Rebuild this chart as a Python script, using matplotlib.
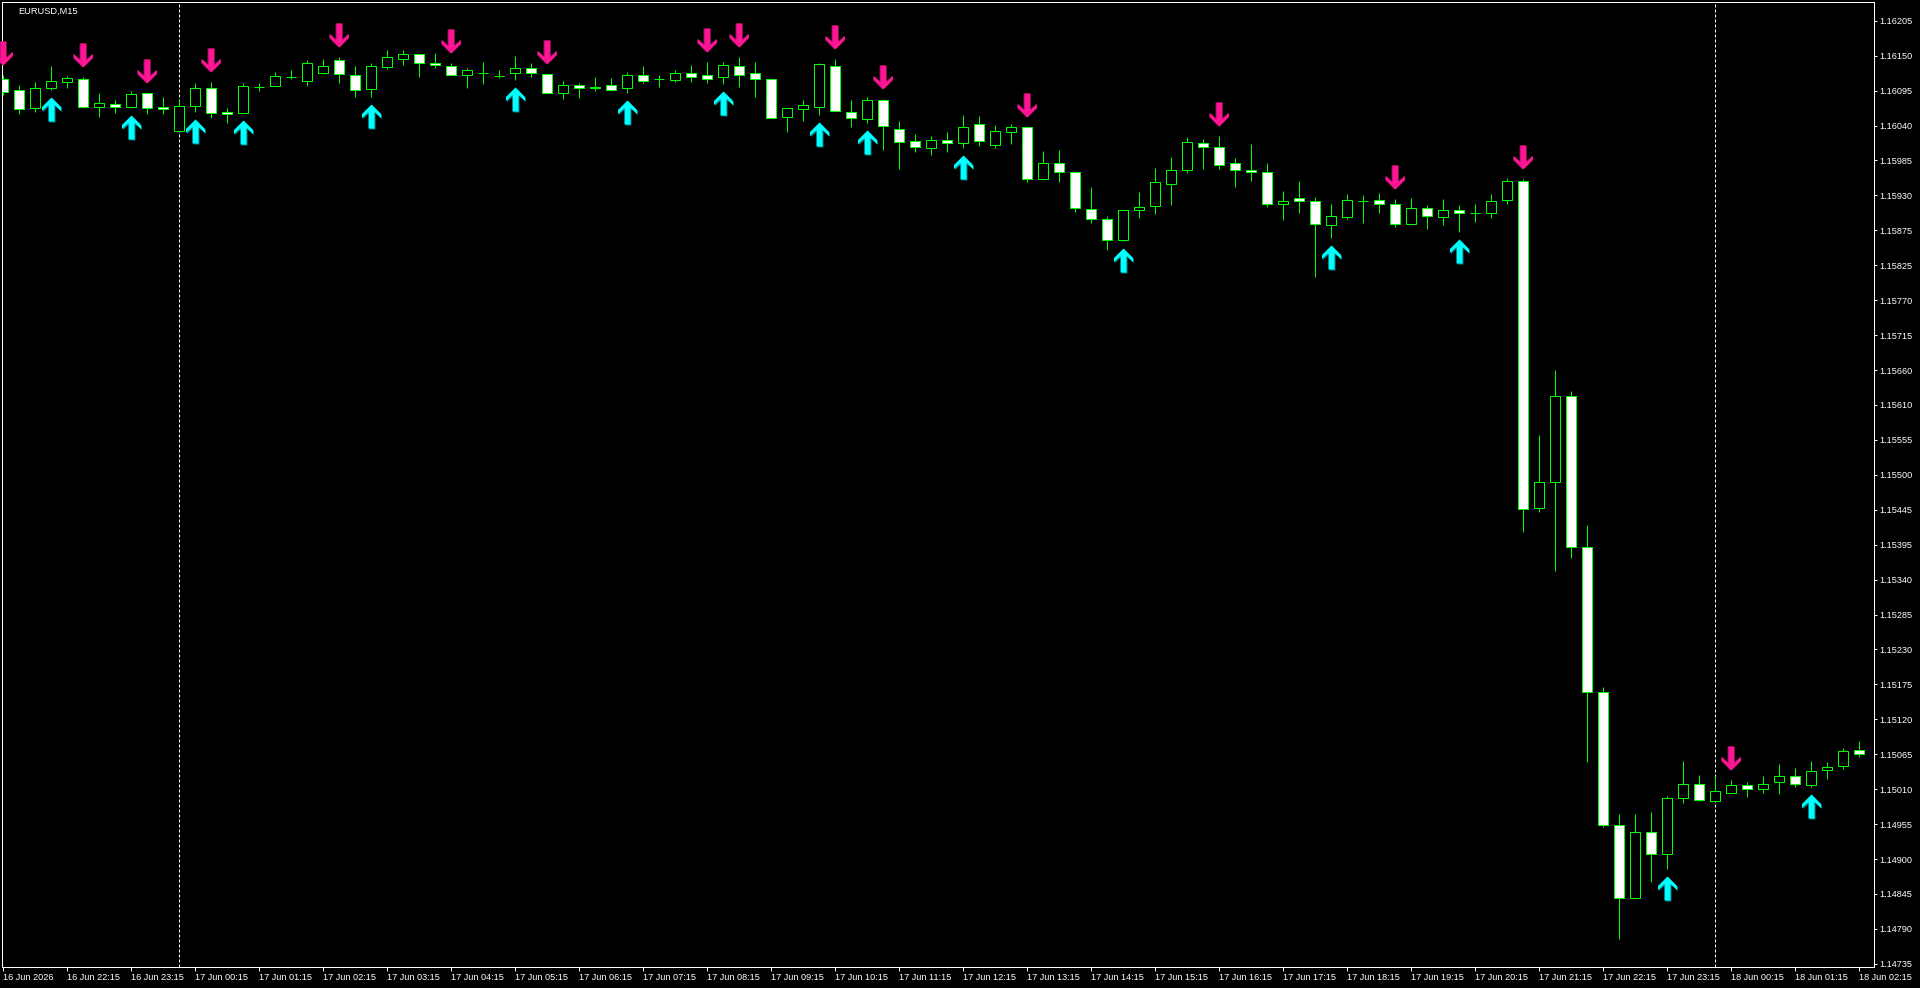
import matplotlib
matplotlib.use('Agg')
import numpy as np
import pandas as pd
from matplotlib import pyplot as plt
from matplotlib.path import Path
from matplotlib.transforms import offset_copy

plt.rcParams['font.family'] = ['Liberation Sans', 'DejaVu Sans']

symbol = "EURUSD,M15"
bar_times = pd.date_range("2026-06-16 21:15", periods=117, freq="15min")

opens = [1.16114, 1.16097, 1.16069, 1.16100, 1.16110, 1.16114, 1.16071, 1.16075, 1.16071, 1.16092,
         1.16071, 1.16033, 1.16072, 1.16100, 1.16063, 1.16062, 1.16102, 1.16104, 1.16117, 1.16111,
         1.16124, 1.16144, 1.16120, 1.16099, 1.16133, 1.16145, 1.16153, 1.16139, 1.16135, 1.16120,
         1.16124, 1.16119, 1.16124, 1.16131, 1.16122, 1.16092, 1.16105, 1.16101, 1.16105, 1.16100,
         1.16120, 1.16114, 1.16113, 1.16124, 1.16120, 1.16117, 1.16135, 1.16124, 1.16114, 1.16055,
         1.16067, 1.16071, 1.16135, 1.16063, 1.16052, 1.16081, 1.16036, 1.16017, 1.16006, 1.16019,
         1.16014, 1.16044, 1.16011, 1.16031, 1.16039, 1.15959, 1.15983, 1.15969, 1.15911, 1.15896,
         1.15863, 1.15910, 1.15916, 1.15950, 1.15973, 1.16014, 1.16008, 1.15983, 1.15973, 1.15969,
         1.15919, 1.15928, 1.15924, 1.15886, 1.15899, 1.15924, 1.15925, 1.15920, 1.15889, 1.15913,
         1.15899, 1.15910, 1.15905, 1.15906, 1.15925, 1.15955, 1.15445, 1.15486, 1.15620, 1.15385,
         1.15158, 1.14951, 1.14838, 1.14941, 1.14906, 1.14994, 1.15016, 1.14988, 1.15002, 1.15013,
         1.15008, 1.15019, 1.15027, 1.15013, 1.15037, 1.15043, 1.15068]
highs = [1.16120, 1.16105, 1.16110, 1.16135, 1.16119, 1.16117, 1.16092, 1.16081, 1.16096, 1.16093,
         1.16086, 1.16081, 1.16108, 1.16110, 1.16069, 1.16108, 1.16108, 1.16125, 1.16128, 1.16144,
         1.16145, 1.16149, 1.16135, 1.16139, 1.16160, 1.16160, 1.16154, 1.16155, 1.16139, 1.16131,
         1.16141, 1.16128, 1.16150, 1.16139, 1.16122, 1.16111, 1.16108, 1.16117, 1.16116, 1.16125,
         1.16135, 1.16120, 1.16128, 1.16136, 1.16141, 1.16141, 1.16149, 1.16141, 1.16115, 1.16069,
         1.16081, 1.16139, 1.16145, 1.16081, 1.16086, 1.16083, 1.16049, 1.16029, 1.16025, 1.16032,
         1.16058, 1.16057, 1.16043, 1.16044, 1.16040, 1.16002, 1.16004, 1.15970, 1.15946, 1.15900,
         1.15910, 1.15938, 1.15976, 1.15993, 1.16024, 1.16021, 1.16025, 1.15991, 1.16013, 1.15983,
         1.15940, 1.15955, 1.15930, 1.15919, 1.15935, 1.15933, 1.15937, 1.15927, 1.15929, 1.15918,
         1.15927, 1.15918, 1.15919, 1.15935, 1.15960, 1.15958, 1.15559, 1.15661, 1.15628, 1.15419,
         1.15167, 1.14969, 1.14969, 1.14972, 1.14997, 1.15051, 1.15029, 1.15027, 1.15022, 1.15018,
         1.15027, 1.15046, 1.15040, 1.15051, 1.15050, 1.15071, 1.15082]
lows = [1.16089, 1.16060, 1.16063, 1.16097, 1.16100, 1.16069, 1.16055, 1.16061, 1.16069, 1.16060,
        1.16060, 1.16033, 1.16063, 1.16053, 1.16046, 1.16061, 1.16096, 1.16103, 1.16114, 1.16103,
        1.16122, 1.16108, 1.16086, 1.16086, 1.16130, 1.16136, 1.16117, 1.16131, 1.16120, 1.16100,
        1.16106, 1.16116, 1.16113, 1.16117, 1.16092, 1.16083, 1.16085, 1.16096, 1.16096, 1.16092,
        1.16108, 1.16102, 1.16110, 1.16110, 1.16108, 1.16106, 1.16102, 1.16086, 1.16053, 1.16032,
        1.16049, 1.16058, 1.16064, 1.16039, 1.16046, 1.16004, 1.15974, 1.16001, 1.15996, 1.16001,
        1.16007, 1.16010, 1.16007, 1.16013, 1.15953, 1.15957, 1.15953, 1.15907, 1.15890, 1.15847,
        1.15862, 1.15898, 1.15904, 1.15918, 1.15968, 1.15974, 1.15974, 1.15946, 1.15956, 1.15914,
        1.15895, 1.15906, 1.15806, 1.15867, 1.15896, 1.15890, 1.15906, 1.15884, 1.15888, 1.15881,
        1.15887, 1.15876, 1.15892, 1.15898, 1.15919, 1.15408, 1.15440, 1.15348, 1.15367, 1.15049,
        1.14949, 1.14773, 1.14837, 1.14863, 1.14883, 1.14985, 1.14989, 1.14987, 1.15001, 1.14995,
        1.15002, 1.14999, 1.15010, 1.15010, 1.15023, 1.15038, 1.15057]
closes = [1.16094, 1.16067, 1.16100, 1.16111, 1.16116, 1.16071, 1.16077, 1.16071, 1.16091, 1.16069,
          1.16067, 1.16072, 1.16100, 1.16061, 1.16060, 1.16103, 1.16102, 1.16119, 1.16118, 1.16139,
          1.16135, 1.16122, 1.16097, 1.16135, 1.16149, 1.16153, 1.16139, 1.16136, 1.16120, 1.16128,
          1.16124, 1.16119, 1.16131, 1.16124, 1.16092, 1.16105, 1.16100, 1.16102, 1.16097, 1.16120,
          1.16111, 1.16114, 1.16124, 1.16117, 1.16114, 1.16136, 1.16120, 1.16114, 1.16053, 1.16069,
          1.16074, 1.16138, 1.16064, 1.16053, 1.16081, 1.16041, 1.16016, 1.16008, 1.16019, 1.16014,
          1.16040, 1.16017, 1.16033, 1.16039, 1.15958, 1.15983, 1.15969, 1.15913, 1.15896, 1.15864,
          1.15910, 1.15914, 1.15953, 1.15972, 1.16016, 1.16008, 1.15980, 1.15973, 1.15969, 1.15920,
          1.15924, 1.15924, 1.15888, 1.15900, 1.15925, 1.15924, 1.15919, 1.15888, 1.15913, 1.15900,
          1.15910, 1.15905, 1.15905, 1.15924, 1.15955, 1.15444, 1.15486, 1.15620, 1.15385, 1.15158,
          1.14952, 1.14837, 1.14940, 1.14906, 1.14993, 1.15015, 1.14990, 1.15005, 1.15013, 1.15007,
          1.15016, 1.15027, 1.15015, 1.15035, 1.15041, 1.15066, 1.15062]

# signal arrows (bar numbers)
sell_bars = [0, 5, 9, 13, 21, 28, 34, 44, 46, 52, 55, 64, 76, 87, 95, 108]
buy_bars = [3, 8, 12, 15, 23, 32, 39, 45, 51, 54, 60, 70, 83, 91, 104, 113]

price_labels = ["1.14735", "1.14790", "1.14845", "1.14900", "1.14955", "1.15010", "1.15065",
                "1.15120", "1.15175", "1.15230", "1.15285", "1.15340", "1.15395", "1.15445",
                "1.15500", "1.15555", "1.15610", "1.15660", "1.15715", "1.15770", "1.15825",
                "1.15875", "1.15930", "1.15985", "1.16040", "1.16095", "1.16150", "1.16205"]

GREEN = '#00ff00'
PX = 0.72  # one pixel in points at dpi 100

fig = plt.figure(figsize=(19.2, 9.88), dpi=100, facecolor='black')
ax = fig.add_axes([2 / 1920, 21 / 988, 1872 / 1920, 965 / 988])
ax.set_facecolor('black')

o = np.array(opens)
h = np.array(highs)
l = np.array(lows)
c = np.array(closes)
x = np.arange(len(o))

ax.vlines(x, l, h, colors=GREEN, linewidth=PX, zorder=2)
fills = np.where(c < o, 'white', 'black')
ax.bar(x, np.abs(c - o), bottom=np.minimum(o, c), width=0.64, color=fills,
       edgecolor=GREEN, linewidth=PX, zorder=3)

# day separators
for i, t in enumerate(bar_times):
    if t.hour == 0 and t.minute == 0:
        ax.axvline(i, color='white', linewidth=PX, linestyle=(0, (3, 2)), zorder=1)

# arrow glyphs
up_verts = [(0, 12), (9.5, 2.5), (9.5, -1.5), (3, 4.5), (3, -12), (-3, -12),
            (-3, 4.5), (-9.5, -1.5), (-9.5, 2.5), (0, 12)]
up_arrow = Path(up_verts, closed=True)
down_arrow = Path([(vx, -vy) for vx, vy in up_verts], closed=True)
msize = 24 * PX

sell_x = np.array(sell_bars)
buy_x = np.array(buy_bars)
above = offset_copy(ax.transData, fig=fig, y=22 * PX, units='points')
below = offset_copy(ax.transData, fig=fig, y=-19 * PX, units='points')
above_sh = offset_copy(ax.transData, fig=fig, x=-1 * PX, y=22 * PX, units='points')
below_sh = offset_copy(ax.transData, fig=fig, x=1 * PX, y=-20 * PX, units='points')

ax.plot(sell_x, h[sell_x], linestyle='none', marker=down_arrow, markersize=msize,
        color='#8a1060', markeredgewidth=0, transform=above_sh, zorder=4, clip_on=False)
ax.plot(sell_x, h[sell_x], linestyle='none', marker=down_arrow, markersize=msize,
        color='#ff1493', markeredgewidth=0, transform=above, zorder=5, clip_on=False)
ax.plot(buy_x, l[buy_x], linestyle='none', marker=up_arrow, markersize=msize,
        color='#008080', markeredgewidth=0, transform=below_sh, zorder=4)
ax.plot(buy_x, l[buy_x], linestyle='none', marker=up_arrow, markersize=msize,
        color='#00ffff', markeredgewidth=0, transform=below, zorder=5)

ax.set_xlim(-0.0625, 116.94)
ax.set_ylim(1.147300, 1.162343)

# time axis
tick_idx = list(range(0, len(bar_times), 4))
tick_txt = []
for i in tick_idx:
    t = bar_times[i]
    tick_txt.append(t.strftime('%d %b %Y') if i == 0 else t.strftime('%d %b %H:%M'))
ax.set_xticks(tick_idx)
ax.set_xticklabels(tick_txt, ha='left')
ax.tick_params(axis='x', colors='white', length=4 * PX, width=PX, pad=1.5, labelsize=6.6)

# price axis
ax.yaxis.tick_right()
ax.set_yticks(np.linspace(float(price_labels[0]), float(price_labels[-1]), len(price_labels)))
ax.set_yticklabels(price_labels)
ax.tick_params(axis='y', colors='white', length=3 * PX, width=PX, pad=2, labelsize=6.6)

for sp in ax.spines.values():
    sp.set_color('white')
    sp.set_linewidth(PX)

fig.text(18 / 1920, 1 - 11 / 988, symbol, color='white', fontsize=6.7, ha='left', va='center')

fig.savefig('out.png', dpi=100, facecolor='black')
